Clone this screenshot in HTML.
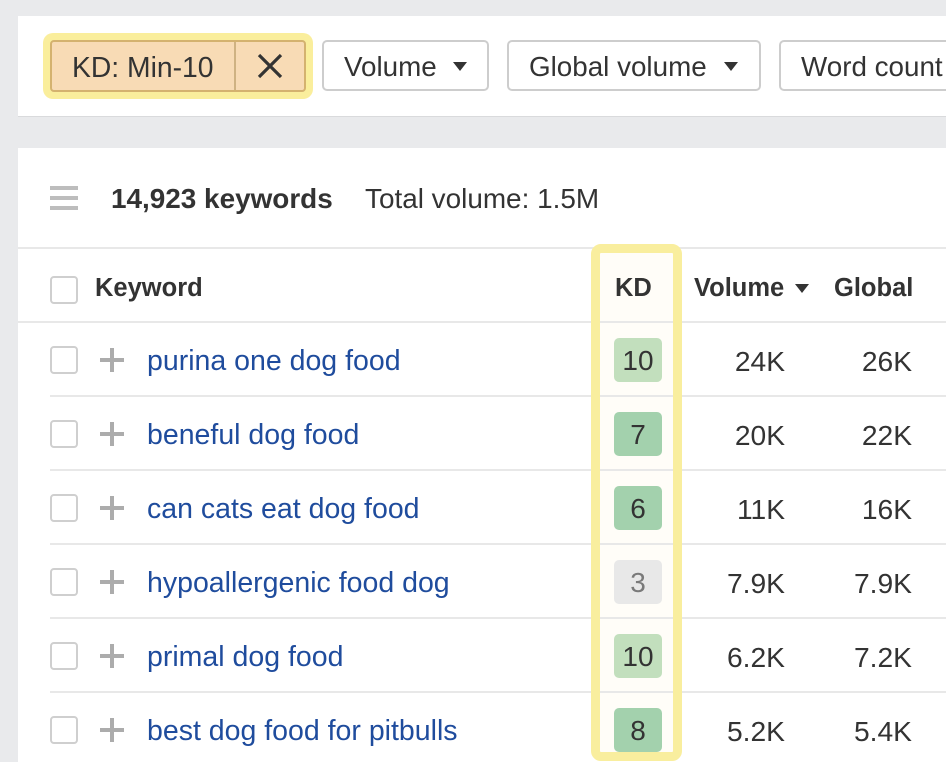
<!DOCTYPE html>
<html><head><meta charset="utf-8"><style>
*{margin:0;padding:0;box-sizing:border-box}
html,body{width:946px;height:762px;overflow:hidden;background:#e9eaec;font-family:"Liberation Sans",Arial,sans-serif;color:#333}
.a{position:absolute}
.panel{background:#fff}
.btn{position:absolute;top:40px;height:51px;border:2px solid #cdcdcd;border-radius:5px;background:#fff;font-size:27.8px;line-height:49px;color:#333;white-space:nowrap;overflow:hidden}
.tri{position:absolute;width:0;height:0;border-left:7.5px solid transparent;border-right:7.5px solid transparent;border-top:9px solid #333}
.hl{position:absolute;left:0;height:2px;background:#e8e8e8}
.cb{position:absolute;left:50px;width:28px;height:28px;border:2px solid #cfcfcf;border-radius:4px;background:#fff}
.plus{position:absolute;left:100px;width:24px;height:24px}
.plus:before{content:"";position:absolute;left:0;top:10px;width:24px;height:4px;background:#acacac}
.plus:after{content:"";position:absolute;left:10px;top:0;width:4px;height:24px;background:#acacac}
.kw{position:absolute;left:147px;height:40px;line-height:42px;font-size:28.5px;color:#1f4c9d;white-space:nowrap}
.badge{position:absolute;left:614px;width:48px;height:44px;border-radius:5px;font-size:28px;line-height:46px;text-align:center;color:#333}
.g1{background:#c2dfbd}.g2{background:#a3d1ad}.gr{background:#e8e8e8;color:#7a7a7a}
.v{position:absolute;height:40px;line-height:42px;font-size:28.2px;color:#333;text-align:right;white-space:nowrap}
.hd{position:absolute;font-weight:bold;font-size:25.5px;height:40px;line-height:42px;color:#333;white-space:nowrap}
</style></head><body>

<!-- top panel -->
<div class="a panel" style="left:18px;top:16px;width:928px;height:100px;box-shadow:0 1px 0 #d9dadc"></div>

<!-- chip -->
<div class="a" style="left:43px;top:33px;width:270px;height:66px;background:#faee9c;border-radius:10px"></div>
<div class="a" style="left:50px;top:40px;width:256px;height:52px;background:#f8dbb5;border:2px solid #d4b26f;border-radius:4px"></div>
<div class="a" style="left:234px;top:42px;width:2px;height:48px;background:#cfb282"></div>
<div class="a" style="left:72px;top:47px;height:40px;line-height:40px;font-size:28.3px;color:#333;white-space:nowrap">KD: Min-10</div>
<svg class="a" style="left:256px;top:53px" width="28" height="26"><path d="M3 2 L25 24 M25 2 L3 24" stroke="#333" stroke-width="3.2" fill="none"/></svg>

<!-- buttons -->
<div class="btn" style="left:322px;width:167px;padding-left:20px">Volume</div>
<div class="tri" style="left:453px;top:62px"></div>
<div class="btn" style="left:507px;width:254px;padding-left:20px">Global volume</div>
<div class="tri" style="left:724px;top:62px"></div>
<div class="btn" style="left:779px;width:200px;padding-left:20px">Word count</div>

<!-- main panel -->
<div class="a panel" style="left:18px;top:148px;width:928px;height:614px"></div>

<!-- KD highlight fill -->
<div class="a" style="left:591px;top:244px;width:91px;height:517px;background:#fffdf8;border-radius:10px"></div>

<!-- hamburger -->
<div class="a" style="left:50px;top:186px;width:28px;height:4px;background:#bdbdbd"></div>
<div class="a" style="left:50px;top:196px;width:28px;height:4px;background:#bdbdbd"></div>
<div class="a" style="left:50px;top:206px;width:28px;height:4px;background:#bdbdbd"></div>
<div class="a" style="left:111px;top:179px;height:40px;line-height:40px;font-size:27.9px;font-weight:bold;color:#333;white-space:nowrap">14,923 keywords</div>
<div class="a" style="left:365px;top:179px;height:40px;line-height:40px;font-size:27.9px;color:#333;white-space:nowrap">Total volume: 1.5M</div>

<!-- lines -->
<div class="hl" style="left:18px;width:928px;top:247px"></div>
<div class="hl" style="left:18px;width:928px;top:321px"></div>
<div class="hl" style="left:50px;width:896px;top:395px"></div>
<div class="hl" style="left:50px;width:896px;top:469px"></div>
<div class="hl" style="left:50px;width:896px;top:543px"></div>
<div class="hl" style="left:50px;width:896px;top:617px"></div>
<div class="hl" style="left:50px;width:896px;top:691px"></div>

<!-- header -->
<div class="cb" style="top:276px"></div>
<div class="hd" style="left:95px;top:267px">Keyword</div>
<div class="hd" style="left:615px;top:267px">KD</div>
<div class="hd" style="left:694px;top:267px">Volume</div>
<div class="tri" style="left:795px;top:284px"></div>
<div class="hd" style="left:834px;top:267px">Global</div>

<!-- rows -->
<div class="cb" style="top:346px"></div><div class="plus" style="top:348px"></div>
<div class="kw" style="top:340px">purina one dog food</div>
<div class="badge g1" style="top:338px">10</div>
<div class="v" style="right:161px;top:340px">24K</div>
<div class="v" style="right:34px;top:340px">26K</div>

<div class="cb" style="top:420px"></div><div class="plus" style="top:422px"></div>
<div class="kw" style="top:414px">beneful dog food</div>
<div class="badge g2" style="top:412px">7</div>
<div class="v" style="right:161px;top:414px">20K</div>
<div class="v" style="right:34px;top:414px">22K</div>

<div class="cb" style="top:494px"></div><div class="plus" style="top:496px"></div>
<div class="kw" style="top:488px">can cats eat dog food</div>
<div class="badge g2" style="top:486px">6</div>
<div class="v" style="right:161px;top:488px">11K</div>
<div class="v" style="right:34px;top:488px">16K</div>

<div class="cb" style="top:568px"></div><div class="plus" style="top:570px"></div>
<div class="kw" style="top:562px">hypoallergenic food dog</div>
<div class="badge gr" style="top:560px">3</div>
<div class="v" style="right:161px;top:562px">7.9K</div>
<div class="v" style="right:34px;top:562px">7.9K</div>

<div class="cb" style="top:642px"></div><div class="plus" style="top:644px"></div>
<div class="kw" style="top:636px">primal dog food</div>
<div class="badge g1" style="top:634px">10</div>
<div class="v" style="right:161px;top:636px">6.2K</div>
<div class="v" style="right:34px;top:636px">7.2K</div>

<div class="cb" style="top:716px"></div><div class="plus" style="top:718px"></div>
<div class="kw" style="top:710px">best dog food for pitbulls</div>
<div class="badge g2" style="top:708px">8</div>
<div class="v" style="right:161px;top:710px">5.2K</div>
<div class="v" style="right:34px;top:710px">5.4K</div>

<!-- KD highlight border -->
<div class="a" style="left:591px;top:244px;width:91px;height:517px;border:9px solid #f9ee9e;border-radius:10px"></div>

</body></html>
